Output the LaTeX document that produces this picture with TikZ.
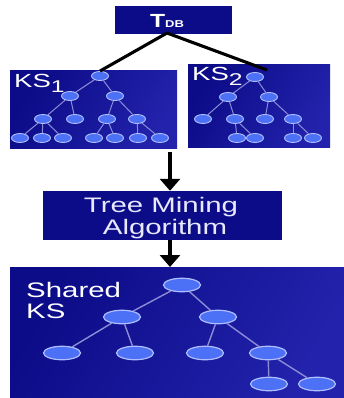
\documentclass[tikz,border=0pt]{standalone}
\usepackage{fontspec}
\usepackage{graphicx}
\setmainfont{Liberation Sans}
\usetikzlibrary{shapes.geometric,arrows.meta}

\definecolor{navy}{RGB}{12,12,136}
\definecolor{navylight}{RGB}{34,34,172}
\definecolor{knode}{RGB}{76,112,246}
\definecolor{krim}{RGB}{175,190,255}
\definecolor{kedge}{RGB}{140,140,215}
\definecolor{lav}{RGB}{232,232,255}

\tikzset{
  panel/.style={draw=none, shading=axis, left color=navy, right color=navylight, shading angle=60},
  plain/.style={fill=navy, draw=none},
  sn/.style={ellipse, fill=knode, draw=krim, line width=0.9pt, minimum width=17pt, minimum height=9pt, inner sep=0pt},
  bn/.style={ellipse, fill=knode, draw=krim, line width=1.2pt, minimum width=37pt, minimum height=13.5pt, inner sep=0pt},
  tedge/.style={draw=kedge, line width=1pt},
  bedge/.style={draw=kedge, line width=1.4pt},
  link/.style={draw=black, line width=3.1pt},
  flow/.style={draw=black, line width=4pt, -{Triangle[width=20pt,length=12pt]}},
  lbl/.style={anchor=base west, inner sep=0pt, text=white},
}

\begin{document}
\begin{tikzpicture}[x=1pt,y=-1pt]
\useasboundingbox[fill=white] (0,0) rectangle (344,398);

% boxes
\node[plain, minimum width=117pt, minimum height=28pt, inner sep=0pt] (tdb) at (173.5,20) {};
\node[anchor=base, inner sep=0pt, text=white] (tdbtxt) at (167,28)
  {\scalebox{1.3}[1]{\fontsize{19}{19}\selectfont\bfseries T\fontsize{10}{10}\selectfont DB}};

\path[panel] (10,71) rectangle (177,148);
\path[panel] (188,65) rectangle (330,147);
\node[plain, minimum width=239pt, minimum height=49pt, inner sep=0pt] (algo) at (162.5,215.5) {};
\path[panel] (10,267) rectangle (344,398);

% KS1 tree
\node[sn] (r1) at (100,76) {};
\node[sn] (a1) at (70,96) {};
\node[sn] (b1) at (115,96) {};
\node[sn] (c1) at (43,119) {};
\node[sn] (d1) at (75,119) {};
\node[sn] (e1) at (107,119) {};
\node[sn] (f1) at (137,119) {};
\node[sn] (g1) at (20,138) {};
\node[sn] (h1) at (42,138) {};
\node[sn] (i1) at (63,138) {};
\node[sn] (j1) at (94,138) {};
\node[sn] (k1) at (115,138) {};
\node[sn] (l1) at (138,138) {};
\node[sn] (m1) at (160,138) {};
\foreach \u/\v in {r1/a1,r1/b1,a1/c1,a1/d1,b1/e1,b1/f1,c1/g1,c1/h1,c1/i1,e1/j1,e1/k1,f1/l1,f1/m1}
  \draw[tedge] (\u) -- (\v);

% KS2 tree
\node[sn] (r2) at (255,77) {};
\node[sn] (a2) at (228,97) {};
\node[sn] (b2) at (269,97) {};
\node[sn] (c2) at (203,119) {};
\node[sn] (d2) at (235,119) {};
\node[sn] (e2) at (265,119) {};
\node[sn] (f2) at (293,119) {};
\node[sn] (g2) at (237,138) {};
\node[sn] (h2) at (255,138) {};
\node[sn] (i2) at (293,138) {};
\node[sn] (j2) at (313,138) {};
\foreach \u/\v in {r2/a2,r2/b2,a2/c2,a2/d2,b2/e2,b2/f2,d2/g2,d2/h2,f2/i2,f2/j2}
  \draw[tedge] (\u) -- (\v);

% shared tree
\node[bn] (sr) at (182,285) {};
\node[bn] (sa) at (122,317) {};
\node[bn] (sb) at (218,317) {};
\node[bn] (sc) at (62,353) {};
\node[bn] (sd) at (135,353) {};
\node[bn] (se) at (205,353) {};
\node[bn] (sf) at (268,353) {};
\node[bn] (sg) at (269,384) {};
\node[bn] (sh) at (317,384) {};
\foreach \u/\v in {sr/sa,sr/sb,sa/sc,sa/sd,sb/se,sb/sf,sf/sg,sf/sh}
  \draw[bedge] (\u) -- (\v);

% labels
\node[lbl] (ks1) at (14,88) {\scalebox{1.45}[1]{\fontsize{19}{19}\selectfont KS\raisebox{-5pt}{\fontsize{17}{17}\selectfont 1}}};
\node[lbl] (ks2) at (192,81) {\scalebox{1.45}[1]{\fontsize{19}{19}\selectfont KS\raisebox{-5pt}{\fontsize{17}{17}\selectfont 2}}};
\node[anchor=base, inner sep=0pt, text=lav] (algo1) at (161,212) {\scalebox{1.4}[1]{\fontsize{21}{21}\selectfont Tree Mining}};
\node[anchor=base, inner sep=0pt, text=lav] (algo2) at (165,234) {\scalebox{1.4}[1]{\fontsize{21}{21}\selectfont Algorithm}};
\node[lbl] (sh1) at (26,297) {\scalebox{1.4}[1]{\fontsize{21}{21}\selectfont Shared}};
\node[lbl] (sh2) at (26,318) {\scalebox{1.4}[1]{\fontsize{21}{21}\selectfont KS}};

% connectors
\coordinate (tdbfoot) at (167,33);
\coordinate (ks2end) at (267,70);
\coordinate (arr1s) at (170,152);
\coordinate (skstop) at (170,267);
\draw[link] (tdbfoot) -- (r1.north);
\draw[link] (tdbfoot) -- (ks2end);
\draw[flow] (arr1s) -- (algo.north -| arr1s);
\draw[flow] (algo.south -| arr1s) -- (skstop);
\end{tikzpicture}
\end{document}
